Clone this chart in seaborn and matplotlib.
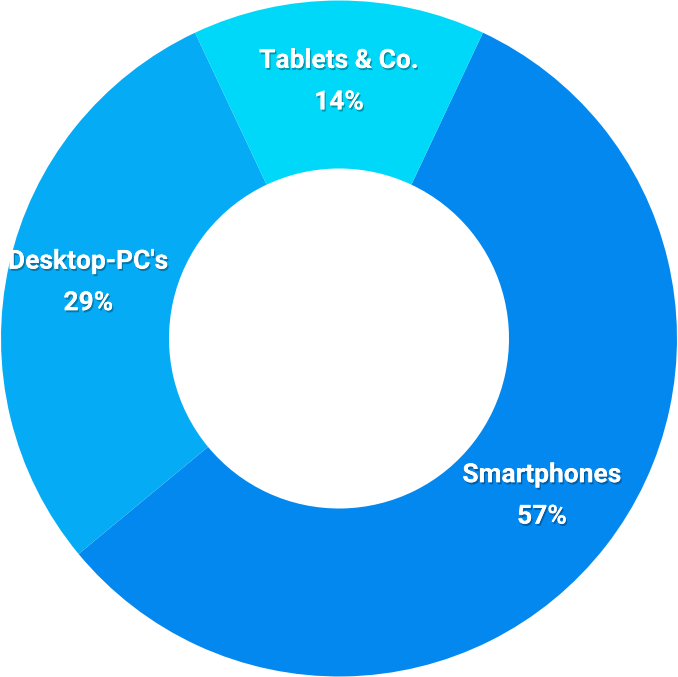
import numpy as np
import matplotlib
matplotlib.use("Agg")
import matplotlib.pyplot as plt
import matplotlib.patheffects as pe
import seaborn as sns

categories = ["Smartphones", "Desktop-PC's", "Tablets & Co."]
shares = [57, 29, 14]
colors = ["#0388EF", "#05ACF5", "#00D8F9"]

sns.set_theme(style="white")
plt.rcParams['font.family'] = ['Roboto', 'DejaVu Sans']

fig = plt.figure(figsize=(6.78, 6.77), dpi=100)
ax = fig.add_axes([0, 0, 1, 1])

total = sum(shares)
start = 90 - 360 * shares[-1] / total / 2
wedges, _ = ax.pie(shares, colors=colors, startangle=start, counterclock=False,
                   radius=1.0, wedgeprops=dict(width=0.497, linewidth=0),
                   labels=None)

r_lab = 0.76
ang = start
for name, v in zip(categories, shares):
    span = 360 * v / total
    mid = np.deg2rad(ang - span / 2)
    ang -= span
    t = ax.text(r_lab * np.cos(mid), r_lab * np.sin(mid), f"{name}\n{v}%",
                ha="center", va="center", multialignment="center",
                color="white", fontsize=19, fontweight="bold", linespacing=1.92)
    t.set_path_effects([pe.withSimplePatchShadow(offset=(1, -1.5), shadow_rgbFace="black", alpha=0.3),
                        pe.Normal()])

ax.set_xlim(-1.003, 1.003)
ax.set_ylim(-1.0, 1.0)
ax.set_aspect("equal")
ax.axis("off")
fig.savefig("out.png", dpi=100, facecolor="white")
